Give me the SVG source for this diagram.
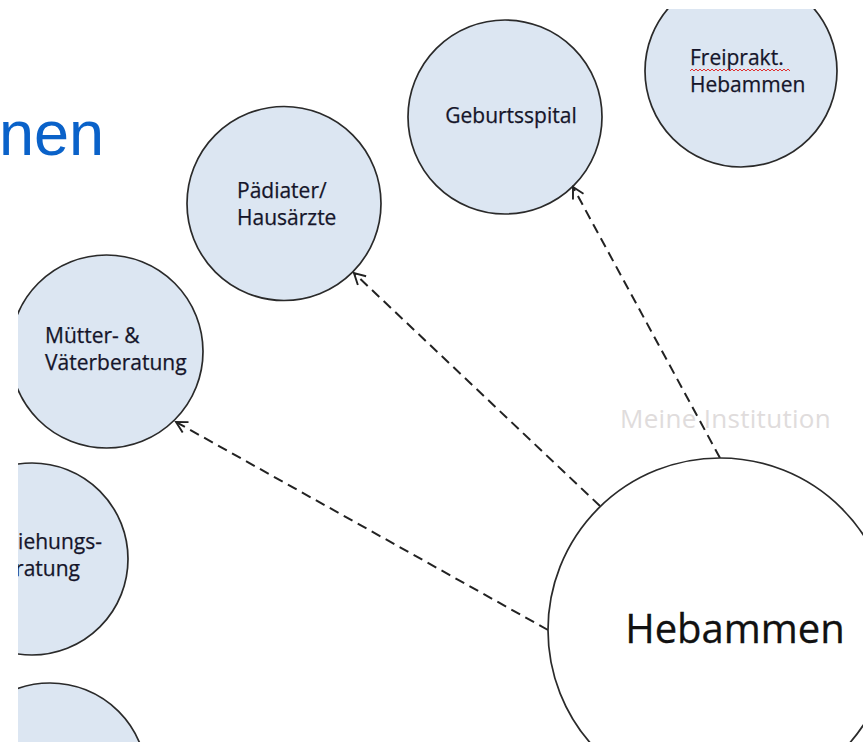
<svg xmlns="http://www.w3.org/2000/svg" width="863" height="742" viewBox="0 0 863 742">
<style>
.node{fill:#dce6f2;stroke:#2a2a2a;stroke-width:1.7}
.main{fill:#fff;stroke:#2a2a2a;stroke-width:1.7}
.lbl{font-family:"Open Sans","Liberation Sans",sans-serif;font-size:21px;fill:#15152a;stroke:#15152a;stroke-width:0.25}
.conn{fill:none;stroke:#222;stroke-width:2;stroke-dasharray:10 6;marker-end:url(#arr)}
</style>
<defs>
<marker id="arr" viewBox="0 0 14 14" refX="12" refY="7" markerWidth="14" markerHeight="14" markerUnits="userSpaceOnUse" orient="auto">
<path d="M1,1 L12,7 L1,13" fill="none" stroke="#222" stroke-width="1.9"/>
</marker>
<clipPath id="frame"><rect x="18" y="9" width="845" height="733"/></clipPath>
</defs>
<rect width="863" height="742" fill="#fff"/>
<text x="-1" y="155" font-family="Liberation Sans, Arial, sans-serif" font-size="63" fill="#0a62c9">nen</text>
<g clip-path="url(#frame)">
<g id="node-geburtsspital">
<circle class="node" cx="505" cy="117" r="97"/>
<text class="lbl" x="511" y="123" text-anchor="middle">Geburtsspital</text>
</g>
<g id="node-freiprakt">
<circle class="node" cx="741" cy="71" r="96"/>
<text class="lbl" x="690" y="65">Freiprakt.</text>
<text class="lbl" x="690" y="92">Hebammen</text>
<path d="M690 71 l2 -2 2 2 2 -2 2 2 2 -2 2 2 2 -2 2 2 2 -2 2 2 2 -2 2 2 2 -2 2 2 2 -2 2 2 2 -2 2 2 2 -2 2 2 2 -2 2 2 2 -2 2 2 2 -2 2 2 2 -2 2 2 2 -2 2 2 2 -2 2 2 2 -2 2 2 2 -2 2 2 2 -2 2 2 2 -2 2 2 2 -2 2 2 2 -2 2 2 2 -2 2 2 2 -2 2 2 2 -2 2 2" fill="none" stroke="#e03030" stroke-width="1"/>
</g>
<g id="node-paediater">
<circle class="node" cx="284" cy="203.5" r="97"/>
<text class="lbl" x="237" y="198">Pädiater/</text>
<text class="lbl" x="237" y="225">Hausärzte</text>
</g>
<g id="node-muetter">
<circle class="node" cx="106.5" cy="351.5" r="96.5"/>
<text class="lbl" x="45" y="343">Mütter- &amp;</text>
<text class="lbl" x="45" y="370">Väterberatung</text>
</g>
<g id="node-erziehung">
<circle class="node" cx="32" cy="559" r="96"/>
<text class="lbl" x="102" y="549" text-anchor="end">iehungs-</text>
<text class="lbl" x="80" y="576" text-anchor="end">ratung</text>
</g>
<g id="node-bottom">
<circle class="node" cx="50" cy="780" r="97"/>
</g>
<text x="620" y="428" font-family="Open Sans, Liberation Sans, sans-serif" font-size="26" letter-spacing="0.3" fill="#e0dcdc">Meine Institution</text>
<g id="connectors">
<line class="conn" x1="720" y1="458" x2="573" y2="187"/>
<line class="conn" x1="600" y1="506" x2="354" y2="273"/>
<line class="conn" x1="548" y1="630" x2="176" y2="422"/>
</g>
<g id="node-hebammen">
<circle class="main" cx="720" cy="630" r="172"/>
<text x="735" y="643" text-anchor="middle" font-family="Open Sans, Liberation Sans, sans-serif" font-size="40" fill="#111" stroke="#111" stroke-width="0.3">Hebammen</text>
</g>
</g>
</svg>
